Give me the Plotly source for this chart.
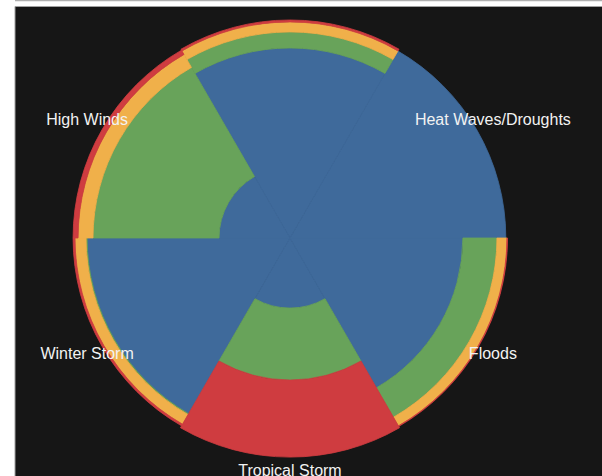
import plotly.graph_objects as go

# Categories (sector centre angles in degrees, counter-clockwise from east)
categories = ["Heat Waves/Droughts", "", "High Winds", "Winter Storm", "Tropical Storm", "Floods"]
angles = [30, 90, 150, 210, 270, 330]

# Stacked series values (inner to outer)
blue_vals = [99.5, 87.6, 32.7, 93.5, 32.3, 79.7]
green_vals = [0.0, 7.4, 58.1, 0.5, 33.2, 15.7]
orange_vals = [0.0, 4.6, 6.9, 5.1, 0.0, 4.6]
red_vals = [0.0, 0.9, 2.3, 0.9, 35.5, 0.3]

series = [
    ("Blue", blue_vals, "#3f6a9b"),
    ("Green", green_vals, "#68a35a"),
    ("Orange", orange_vals, "#f0b04a"),
    ("Red", red_vals, "#cf3c40"),
]

radial_max = 109.7
label_r = 108.0

fig = go.Figure()
for name, vals, color in series:
    fig.add_trace(go.Barpolar(
        r=vals, theta=angles, width=[60] * len(angles), name=name,
        marker=dict(color=color,
                    line=dict(color=color, width=[0.8 if v > 0 else 0 for v in vals])),
        hoverinfo="skip", showlegend=False,
    ))

fig.add_trace(go.Scatterpolar(
    r=[label_r] * len(categories), theta=angles, mode="text",
    text=categories, textposition="middle center",
    textfont=dict(family="Liberation Sans, Arial, sans-serif", size=16, color="#f2f2f2"),
    cliponaxis=False, showlegend=False, hoverinfo="skip",
))

fig.update_layout(
    width=602, height=476,
    margin=dict(l=0, r=0, t=0, b=0),
    paper_bgcolor="#ffffff",
    plot_bgcolor="#161616",
    showlegend=False,
    polar=dict(
        domain=dict(x=[0.0864, 0.877], y=[0.0, 1.0]),
        bgcolor="rgba(0,0,0,0)",
        bargap=0,
        barmode="stack",
        radialaxis=dict(range=[0, radial_max], visible=False, showgrid=False,
                        showline=False, showticklabels=False, ticks=""),
        angularaxis=dict(type="linear", rotation=0, direction="counterclockwise",
                         showgrid=False, showline=False, showticklabels=False,
                         ticks="", visible=False),
    ),
    shapes=[
        dict(type="rect", xref="paper", yref="paper", x0=15 / 602, x1=1.01,
             y0=-0.01, y1=1 - 6.5 / 476, fillcolor="#161616",
             line=dict(color="#a0a0a0", width=1), layer="below"),
        dict(type="line", xref="paper", yref="paper", x0=15 / 602, x1=1,
             y0=1 - 0.5 / 476, y1=1 - 0.5 / 476,
             line=dict(color="#b0b0b0", width=1.5), layer="below"),
    ],
)

fig.write_html("out.html")
